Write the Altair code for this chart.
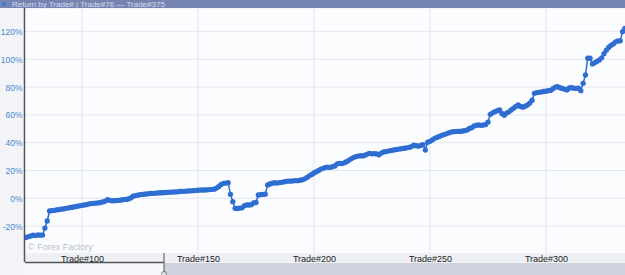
import altair as alt
import pandas as pd

# ---- data ----
trade_numbers = list(range(76, 335))

ret_076_125 = [
    -28.0, -27.5, -27.0, -26.5, -26.8, -26.3, -26.5, -26.4, -21.4, -16.3,
    -9.1, -8.8, -8.7, -8.3, -8.1, -7.8, -7.6, -7.2, -7.0, -6.6,
    -6.4, -6.0, -5.7, -5.4, -5.0, -4.8, -4.5, -4.0, -3.8, -3.6,
    -3.4, -3.3, -3.0, -2.6, -2.0, -1.0, -1.4, -1.8, -1.7, -1.5,
    -1.4, -1.2, -0.9, -0.8, -0.4, 0.3, 1.5, 2.0, 2.3, 2.6,
]
ret_126_175 = [
    2.8, 3.0, 3.1, 3.4, 3.5, 3.6, 3.8, 3.9, 4.0, 4.0,
    4.2, 4.3, 4.4, 4.5, 4.6, 4.7, 4.9, 5.0, 5.0, 5.2,
    5.3, 5.4, 5.5, 5.7, 5.8, 5.9, 6.0, 6.0, 6.1, 6.3,
    6.4, 6.6, 7.4, 8.5, 10.0, 10.8, 11.0, 11.2, 2.9, -2.4,
    -7.2, -7.3, -7.0, -6.8, -5.2, -4.8, -4.8, -4.6, -3.3, -3.0,
]
ret_176_225 = [
    2.4, 2.6, 2.8, 3.0, 9.6, 10.3, 10.9, 11.2, 11.0, 11.3,
    11.5, 11.8, 12.2, 12.4, 12.3, 12.6, 12.8, 12.7, 13.0, 13.4,
    14.0, 15.0, 16.2, 17.2, 18.2, 19.1, 20.0, 21.0, 21.6, 22.2,
    22.4, 22.3, 22.7, 23.3, 24.8, 25.2, 25.0, 25.5, 26.3, 27.3,
    28.4, 29.3, 30.0, 30.4, 30.6, 30.5, 31.0, 31.8, 32.3, 32.0,
]
ret_226_275 = [
    32.1, 31.9, 31.3, 32.5, 33.3, 33.6, 34.0, 34.3, 34.6, 35.0,
    35.2, 35.5, 35.8, 36.0, 36.3, 36.6, 37.2, 38.3, 37.8, 37.5,
    38.0, 38.6, 34.7, 40.3, 41.0, 42.0, 43.1, 43.8, 44.5, 45.2,
    45.8, 46.4, 47.0, 47.6, 47.9, 48.0, 48.2, 48.1, 48.4, 48.6,
    49.2, 50.2, 50.8, 52.0, 52.6, 52.7, 52.5, 52.7, 53.0, 54.8,
]
ret_276_334 = [
    60.4, 61.5, 62.3, 63.0, 63.5, 61.0, 59.8, 61.3, 62.2, 63.5,
    64.8, 66.0, 67.1, 66.0, 65.5, 66.2, 67.1, 68.5, 70.5, 75.5,
    76.0, 76.2, 76.5, 76.8, 77.0, 77.4, 77.6, 78.8, 80.0, 80.2,
    79.5, 79.0, 78.5, 77.9, 79.3, 79.5, 79.2, 79.0, 79.2, 77.4,
    82.7, 88.7, 100.7, 100.7, 96.6, 97.5, 98.5, 99.5, 101.0, 104.0,
    106.5, 108.5, 110.0, 111.0, 112.5, 113.1, 113.2, 119.8, 122.2,
]
returns = ret_076_125 + ret_126_175 + ret_176_225 + ret_226_275 + ret_276_334

x_ticks = [100, 150, 200, 250, 300]
y_ticks = [-20, 0, 20, 40, 60, 80, 100, 120]
title_text = "Return by Trade# | Trade#76 \u2014 Trade#375"
watermark = "\u00a9 Forex Factory"

df = pd.DataFrame({"trade": trade_numbers, "ret": returns})

W, H = 600, 244
FONT = "Liberation Sans"
BLUE = "#2e6ed2"
GRID = "#e2e6ef"

x_scale = alt.Scale(domain=[75.43, 334.05], nice=False, zero=False)
y_scale = alt.Scale(domain=[-39.3, 136.1], nice=False, zero=False)

x_axis = alt.Axis(values=x_ticks, title=None, ticks=False, domain=False,
                  labelExpr="'Trade#' + datum.value", labelFont=FONT,
                  labelFontSize=9, labelColor="#222222", labelPadding=1,
                  labelOverlap=False, zindex=2, grid=False)
y_axis = alt.Axis(values=y_ticks, title=None, ticks=False, domain=False,
                  labelExpr="datum.value + '%'", labelFont=FONT,
                  labelFontSize=8.5, labelColor="#4a88d0", labelPadding=3,
                  labelOverlap=False, labelBound=False, zindex=2, grid=False)

x_enc = alt.X("trade:Q", scale=x_scale, axis=x_axis)
y_enc = alt.Y("ret:Q", scale=y_scale, axis=y_axis)

# grid lines drawn as rules beneath the series
vgrid = alt.Chart(pd.DataFrame({"trade": x_ticks})).mark_rule(
    color=GRID, strokeWidth=1).encode(x=alt.X("trade:Q", scale=x_scale, axis=x_axis),
                                      y=alt.value(0), y2=alt.value(H))
hgrid = alt.Chart(pd.DataFrame({"ret": y_ticks})).mark_rule(
    color=GRID, strokeWidth=1).encode(y=alt.Y("ret:Q", scale=y_scale, axis=y_axis),
                                      x=alt.value(0), x2=alt.value(W))

base = alt.Chart(df)
line = base.mark_line(color=BLUE, strokeWidth=1.5, clip=True).encode(x=x_enc, y=y_enc)
pts = base.mark_circle(color=BLUE, size=28, opacity=1, clip=True).encode(x=x_enc, y=y_enc)

one = alt.Data(values=[{"k": 1}])

def rect(x1, x2, y1, y2, color):
    return alt.Chart(one).mark_rect(color=color).encode(
        x=alt.value(x1), x2=alt.value(x2), y=alt.value(y1), y2=alt.value(y2))

def rule(x1, x2, y1, y2, color, w=1):
    return alt.Chart(one).mark_rule(color=color, strokeWidth=w).encode(
        x=alt.value(x1), x2=alt.value(x2), y=alt.value(y1), y2=alt.value(y2))

title_bar = rect(-25, W, -9, -1, "#7684b2")
title_txt = alt.Chart(one).mark_text(
    text=title_text, align="left", baseline="alphabetic", font=FONT,
    fontSize=8, color="#d5dbee").encode(x=alt.value(-13), y=alt.value(-2.5))
title_dot = alt.Chart(one).mark_circle(color="#3d7ad6", size=18, opacity=1).encode(
    x=alt.value(-21), y=alt.value(-5))

label_band = rect(0, W, H, H + 9, "#eef0f5")
nav_left = rect(0, 139, H + 10, H + 22, "#f6f7fa")
nav_right = rect(139, W, H + 10, H + 22, "#cdd2dc")
nav_line = rule(0, 139, H + 9.5, H + 9.5, "#555555", 1.5)
nav_handle = rule(139, 139, H, H + 22, "#555555", 1)
nav_knob = alt.Chart(one).mark_point(shape="circle", size=25, color="#555555",
                                     fill="#ffffff", filled=False, strokeWidth=1).encode(
    x=alt.value(139), y=alt.value(H + 21))
y_axis_line = rule(-0.5, -0.5, -1, H + 9, "#555555", 1.5)

wm = alt.Chart(one).mark_text(
    text=watermark, align="left", baseline="middle", font=FONT, fontSize=9,
    color="#b9bdc8").encode(x=alt.value(3), y=alt.value(237.5))

chart = alt.layer(
    label_band, nav_left, nav_right, vgrid, hgrid, wm, line, pts,
    title_bar, title_txt, title_dot, nav_line, nav_handle, nav_knob, y_axis_line
).properties(
    width=W, height=H,
    autosize=alt.AutoSizeParams(type="none"),
    padding={"left": 25, "top": 9, "right": 0, "bottom": 22},
    background="#f3f4f8",
).configure_view(
    fill="#fbfcfe", stroke=None
)

chart.save("out.html", embed_options={"renderer": "svg", "actions": False})
